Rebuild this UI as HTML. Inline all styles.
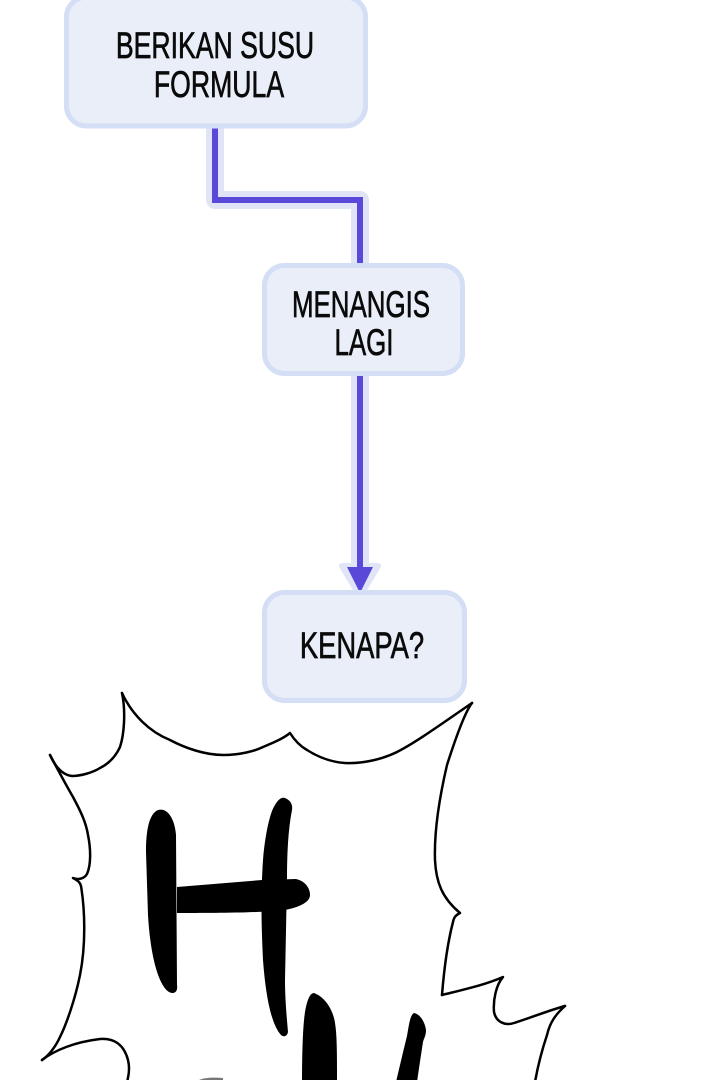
<!DOCTYPE html>
<html><head><meta charset="utf-8"><style>
html,body{margin:0;padding:0;background:#fff;}
svg{display:block;}
text{font-family:"Liberation Sans",sans-serif;font-size:37px;fill:#0a0a0a;stroke:#0a0a0a;stroke-width:0.7px;}
</style></head><body>
<svg width="720" height="1080" viewBox="0 0 720 1080" xmlns="http://www.w3.org/2000/svg">
<rect width="720" height="1080" fill="#fff"/>
<!-- connector halos -->
<g fill="none" stroke="#dfe4f7" stroke-width="18" stroke-linejoin="round">
  <polyline points="215,125 215,200 360,200 360,268"/>
  <line x1="360" y1="372" x2="360" y2="566"/>
</g>
<polygon points="342,566 378,566 360,596" fill="#dfe4f7" stroke="#dfe4f7" stroke-width="6" stroke-linejoin="round"/>
<!-- connectors -->
<g fill="none" stroke="#5a48d8" stroke-width="6" stroke-linejoin="miter">
  <polyline points="215,125 215,200 360,200 360,268"/>
  <line x1="360" y1="372" x2="360" y2="570"/>
</g>
<polygon points="347,567 373,567 360,593" fill="#5a48d8"/>
<polygon points="211,-2 219,-2 215,4" fill="#5a48d8"/>
<!-- boxes -->
<g fill="#e9eef9" stroke="#d4def5" stroke-width="5">
  <rect x="66.5" y="-3" width="299" height="129" rx="20"/>
  <rect x="264.5" y="265.5" width="198" height="108" rx="20"/>
  <rect x="264.5" y="592.5" width="200" height="108" rx="20"/>
</g>
<!-- labels -->
<text text-anchor="middle" transform="translate(215,58) scale(0.72,1)">BERIKAN SUSU</text>
<text text-anchor="middle" transform="translate(219,97) scale(0.72,1)">FORMULA</text>
<text text-anchor="middle" transform="translate(361,317) scale(0.7,1)">MENANGIS</text>
<text text-anchor="middle" transform="translate(364,355) scale(0.7,1)">LAGI</text>
<text text-anchor="middle" transform="translate(362,658) scale(0.74,1)">KENAPA?</text>
<!-- burst bubble -->
<g fill="none" stroke="#000" stroke-width="2.5" stroke-linecap="round" stroke-linejoin="round">
  <path d="M122,693 C132,715 150,732 170,740 C185,748 205,755 223,755 C240,755 255,751 263,747 C275,742 284,738 290,733 C295,741 300,746 307,750 C318,757 330,762 345,763 C365,764 385,758 397,752 C415,743 440,725 472,703"/>
  <path d="M122,693 C126,712 124,735 120,747 C115,758 108,764 100,768 C92,773 80,776 72,776 C62,775 55,766 50,755"/>
  <path d="M50,755 C58,770 66,785 73,797 C80,810 86,822 88,835 C91,850 91,865 87,874 C84,879 78,880 73,878 C77,880 80,882 81,886 C85,910 86,945 80,975 C75,1000 66,1025 60,1037 C55,1048 48,1056 42,1060"/>
  <path d="M42,1060 C55,1050 75,1042 100,1039 C115,1038 124,1045 128,1060 C130,1068 129,1075 127,1082"/>
  <path d="M472,703 C465,712 455,740 447,765 C440,795 434,830 435,860 C436,882 442,898 460,913 C456,915 454,917 453,922 C447,945 444,970 442,995"/>
  <path d="M442,995 C462,990 485,985 503,977 C496,985 493,1000 494,1012 C496,1022 505,1026 514,1023 C530,1018 550,1010 565,1006"/>
  <path d="M565,1006 C556,1014 550,1022 547,1035 C542,1050 538,1065 535,1082"/>
</g>
<!-- H letter -->
<g fill="#000">
  <path d="M158,810 C149,814 146,830 146,852 L148,915 C150,950 157,984 169,992 C175,995 178,991 177,985 L176,835 C175,820 168,807 158,810 Z"/>
  <path d="M177,887 L262,880 L296,879 C305,881 310,888 310,895 C310,902 300,907 285,910 C260,913 210,913 177,913 Z"/>
  <path d="M285,798 C290,800 293,804 292,810 C288,830 287,855 287,880 L285,980 C285,1000 287,1020 288,1032 C287,1037 283,1037 281,1035 C272,1025 266,1000 263,960 C261,920 261,890 263,860 C265,835 270,812 275,805 C278,800 281,797 285,798 Z"/>
  <path d="M314,993 C322,996 330,1004 334,1018 C337,1030 337,1050 337,1082 L302,1082 C302,1050 303,1025 305,1012 C307,1000 310,993 314,993 Z"/>
  <path d="M414,1013 C420,1014 425,1022 426,1030 C426,1036 424,1038 423,1042 C421,1055 419,1068 417,1082 L396,1082 C400,1065 404,1048 407,1036 C409,1025 410,1015 414,1013 Z"/>
  <path d="M197,1081 C202,1078 210,1077 223,1078 L223,1081 Z" fill="#777"/>
</g>
</svg>
</body></html>
